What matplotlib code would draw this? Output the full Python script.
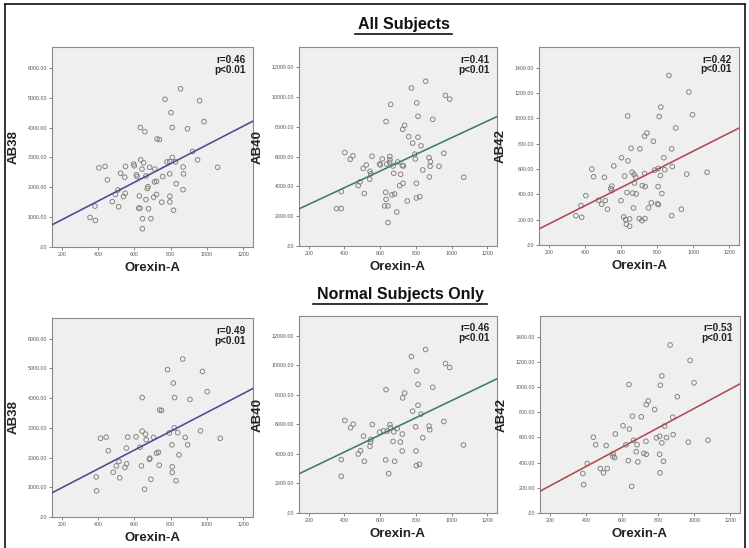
import numpy as np
import matplotlib
matplotlib.use("Agg")
import matplotlib.pyplot as plt
from matplotlib.ticker import FuncFormatter

plt.rcParams['font.family'] = ['Liberation Sans', 'DejaVu Sans']

# ---------------- data ----------------
# All subjects
all_ab38_x = [855, 769, 960, 802, 984, 633, 809, 893, 658, 725, 738, 922, 809, 780, 795, 827, 949, 635, 651,
              596, 600, 438, 404, 551, 684, 642, 713, 869, 1060, 524, 611, 615, 547, 664, 756, 795, 871, 451,
              722, 711, 831, 675, 671, 869, 509, 495, 549, 540, 722, 707, 627, 796, 664, 751, 796, 478, 513,
              382, 624, 631, 678, 816, 355, 385, 645, 691, 644]
all_ab38_y = [5300, 4950, 4900, 4500, 4200, 4000, 4000, 3960, 3860, 3620, 3600, 3200, 3000, 2850, 2860, 2850, 2920,
              2920, 2820, 2780, 2720, 2700, 2650, 2700, 2670, 2610, 2610, 2680, 2670, 2470, 2420, 2360, 2340, 2380,
              2360, 2450, 2450, 2250, 2200, 2180, 2120, 2020, 1960, 1920, 1910, 1760, 1800, 1690, 1760, 1670,
              1710, 1700, 1590, 1500, 1510, 1520, 1350, 1370, 1300, 1300, 1280, 1230, 990, 890, 950, 950, 610]

all_ab40_x = [855, 775, 966, 990, 805, 659, 812, 895, 633, 737, 726, 760, 812, 782, 829, 402, 957, 447, 432, 554,
              654, 794, 874, 882, 797, 522, 505, 597, 601, 612, 637, 655, 653, 698, 672, 724, 730, 880, 930, 839,
              543, 547, 676, 715, 541, 487, 477, 728, 709, 876, 1069, 803, 382, 511, 631, 666, 681, 752, 633,
              803, 822, 355, 382, 625, 644, 693, 644]
all_ab40_y = [11050, 10600, 10100, 9850, 9600, 9500, 8700, 8500, 8350, 8100, 7830, 7340, 7300, 6900, 6720, 6270,
              6220, 6050, 5820, 6020, 6000, 6160, 5930, 5660, 5840, 5440, 5200, 5500, 5440, 5840, 5500, 5780,
              5600, 5640, 5370, 5400, 5370, 5350, 5350, 5100, 5010, 4840, 4880, 4810, 4480, 4300, 4050, 4210,
              4050, 4630, 4610, 4210, 3650, 3520, 3600, 3430, 3490, 3020, 3130, 3220, 3310, 2510, 2510, 2690,
              2690, 2280, 1570]

all_ab42_x = [866, 977, 821, 637, 812, 997, 904, 744, 731, 780, 656, 705, 881, 603, 639, 838, 560, 438, 885, 787,
              806, 843, 965, 1078, 662, 673, 731, 819, 448, 508, 620, 682, 675, 549, 718, 734, 806, 543, 549,
              405, 633, 665, 684, 827, 378, 476, 513, 493, 600, 768, 802, 808, 525, 669, 753, 935, 350, 382,
              615, 626, 648, 701, 716, 733, 881, 630, 648]
all_ab42_y = [1340, 1210, 1090, 1020, 1015, 1030, 925, 885, 860, 820, 765, 760, 760, 690, 665, 690, 625, 600, 620,
              592, 605, 595, 560, 575, 575, 557, 565, 550, 540, 535, 545, 535, 490, 465, 470, 462, 462, 445, 430,
              390, 415, 410, 404, 407, 312, 354, 351, 322, 351, 333, 325, 320, 283, 293, 293, 283, 232, 219, 222,
              201, 206, 209, 193, 209, 232, 164, 148]

# Normal subjects only
nor_ab38_x = [867, 783, 976, 815, 1002, 643, 822, 907, 739, 750, 820, 793, 839, 965, 643, 661, 413, 444, 563, 609,
              706, 665, 881, 1074, 556, 631, 807, 894, 456, 733, 722, 846, 685, 683, 515, 500, 557, 548, 639, 737,
              809, 483, 809, 519, 389, 691, 830, 391, 656]
nor_ab38_y = [5320, 4960, 4900, 4510, 4220, 4020, 4020, 3960, 3600, 3590, 3000, 2830, 2840, 2900, 2890, 2790, 2650,
              2690, 2690, 2700, 2680, 2600, 2680, 2650, 2320, 2350, 2430, 2430, 2230, 2180, 2150, 2090, 1980, 1940,
              1870, 1720, 1790, 1670, 1720, 1745, 1690, 1510, 1500, 1320, 1350, 1270, 1220, 880, 935]

nor_ab40_x = [855, 775, 966, 990, 805, 812, 895, 633, 737, 726, 812, 782, 829, 402, 957, 449, 556, 655, 434, 657,
              696, 799, 874, 878, 597, 619, 640, 676, 507, 724, 839, 548, 546, 672, 713, 543, 490, 477, 724, 801,
              1067, 382, 511, 631, 681, 803, 820, 382, 648]
nor_ab40_y = [11080, 10600, 10130, 9860, 9620, 8720, 8520, 8360, 8130, 7800, 7300, 6900, 6700, 6270, 6200, 6020,
              6000, 5980, 5780, 5780, 5730, 5840, 5890, 5640, 5480, 5570, 5550, 5500, 5210, 5350, 5100, 4990,
              4810, 4850, 4810, 4520, 4220, 4000, 4200, 4200, 4610, 3620, 3500, 3600, 3500, 3210, 3300, 2490, 2670]

nor_ab42_x = [867, 978, 821, 639, 813, 1000, 907, 746, 735, 781, 658, 707, 882, 606, 641, 837, 563, 441, 884, 791,
              809, 847, 968, 1078, 664, 733, 821, 454, 512, 622, 684, 679, 551, 721, 735, 809, 549, 559, 407, 635,
              688, 830, 383, 480, 518, 497, 811, 387, 654]
nor_ab42_y = [1335, 1212, 1089, 1021, 1015, 1034, 924, 890, 861, 822, 769, 764, 761, 693, 667, 691, 628, 602, 623,
              597, 610, 599, 563, 578, 578, 570, 557, 542, 536, 542, 542, 487, 471, 474, 466, 466, 450, 440, 393,
              416, 406, 411, 314, 353, 353, 319, 319, 225, 212]

# fit lines (intercept, slope)
fits = {
    ('all', 'AB38'): (289, 3.13),
    ('all', 'AB40'): (1681, 5.58),
    ('all', 'AB42'): (23, 0.718),
    ('nor', 'AB38'): (355, 3.164),
    ('nor', 'AB40'): (1816, 5.80),
    ('nor', 'AB42'): (62, 0.768),
}
stats = {
    ('all', 'AB38'): ("r=0.46", "p<0.01"),
    ('all', 'AB40'): ("r=0.41", "p<0.01"),
    ('all', 'AB42'): ("r=0.42", "p<0.01"),
    ('nor', 'AB38'): ("r=0.49", "p<0.01"),
    ('nor', 'AB40'): ("r=0.46", "p<0.01"),
    ('nor', 'AB42'): ("r=0.53", "p<0.01"),
}
x_ticks = [200, 400, 600, 800, 1000, 1200]
y_ticks = {
    'AB38': [0, 1000, 2000, 3000, 4000, 5000, 6000],
    'AB40': [0, 2000, 4000, 6000, 8000, 10000, 12000],
    'AB42': [0, 200, 400, 600, 800, 1000, 1200, 1400],
}
y_lims = {'AB38': (0, 6700), 'AB40': (0, 13350), 'AB42': (0, 1565)}
x_lim = (145, 1255)
line_colors = {'AB38': '#4b4a92', 'AB40': '#3f7f56', 'AB42': '#b2484f'}

datasets = {
    ('all', 'AB38'): (all_ab38_x, all_ab38_y),
    ('all', 'AB40'): (all_ab40_x, all_ab40_y),
    ('all', 'AB42'): (all_ab42_x, all_ab42_y),
    ('nor', 'AB38'): (nor_ab38_x, nor_ab38_y),
    ('nor', 'AB40'): (nor_ab40_x, nor_ab40_y),
    ('nor', 'AB42'): (nor_ab42_x, nor_ab42_y),
}

# ---------------- layout ----------------
W, H = 749, 548
fig = plt.figure(figsize=(W / 100, H / 100), dpi=100)
fig.patch.set_facecolor('white')

# pixel boxes (x0, y0, x1, y1) top-left origin
boxes = {
    ('all', 'AB38'): (52, 47, 253, 247),
    ('all', 'AB40'): (299, 47, 497, 246),
    ('all', 'AB42'): (539, 47, 739, 245),
    ('nor', 'AB38'): (52, 318, 253, 517),
    ('nor', 'AB40'): (299, 316, 497, 513),
    ('nor', 'AB42'): (540, 316, 740, 513),
}


def yfmt(v, pos):
    s = "%.2f" % v
    if s.startswith("0"):
        s = s[1:]
    return s


for key, (x0, y0, x1, y1) in boxes.items():
    grp, var = key
    ax = fig.add_axes([x0 / W, 1 - y1 / H, (x1 - x0) / W, (y1 - y0) / H])
    ax.set_facecolor('#efefef')
    xs, ys = datasets[key]
    ax.scatter(xs, ys, s=11, facecolors='none', edgecolors='#7e7e7e', linewidths=0.65, zorder=3)
    ax.set_xlim(*x_lim)
    ax.set_ylim(*y_lims[var])
    b0, b1 = fits[key]
    lx = np.array(x_lim)
    ax.plot(lx, b0 + b1 * lx, color=line_colors[var], lw=1.15, zorder=4)
    ax.set_xticks(x_ticks)
    ax.set_yticks(y_ticks[var])
    ax.yaxis.set_major_formatter(FuncFormatter(yfmt))
    ax.tick_params(axis='both', labelsize=3.8, length=2, width=0.5, pad=1.5, colors='#555555')
    for sp in ax.spines.values():
        sp.set_color('#8a8a8a')
        sp.set_linewidth(0.8)
    ax.set_ylabel(var, fontsize=9.5, fontweight='bold', labelpad=6, color='#222222')
    ax.set_xlabel('Orexin-A', fontsize=9.5, fontweight='bold', labelpad=4, color='#222222')
    r_txt, p_txt = stats[key]
    ax.text(0.962, 0.962, r_txt, transform=ax.transAxes, ha='right', va='top',
            fontsize=7.2, fontweight='bold', color='#222222', zorder=5)
    ax.text(0.962, 0.912, p_txt, transform=ax.transAxes, ha='right', va='top',
            fontsize=7.2, fontweight='bold', color='#222222', zorder=5)

# titles
t1 = fig.text(404 / W, 1 - 25 / H, "All Subjects", ha='center', va='center',
              fontsize=11.5, fontweight='bold', color='#111111')
t2 = fig.text(400 / W, 1 - 295 / H, "Normal Subjects Only", ha='center', va='center',
              fontsize=11.5, fontweight='bold', color='#111111')
# underlines
fig.add_artist(plt.Line2D([355 / W, 452 / W], [1 - 33.5 / H, 1 - 33.5 / H], color='#111111', lw=1.2))
fig.add_artist(plt.Line2D([313 / W, 487 / W], [1 - 304 / H, 1 - 304 / H], color='#111111', lw=1.2))

# outer frame
fig.add_artist(plt.Line2D([5 / W, 5 / W], [0, 1 - 4 / H], color='#111111', lw=1.2))
fig.add_artist(plt.Line2D([745 / W, 745 / W], [0, 1 - 4 / H], color='#111111', lw=1.2))
fig.add_artist(plt.Line2D([5 / W, 745 / W], [1 - 4 / H, 1 - 4 / H], color='#111111', lw=1.2))

fig.savefig('out.png', dpi=100, facecolor='white')
